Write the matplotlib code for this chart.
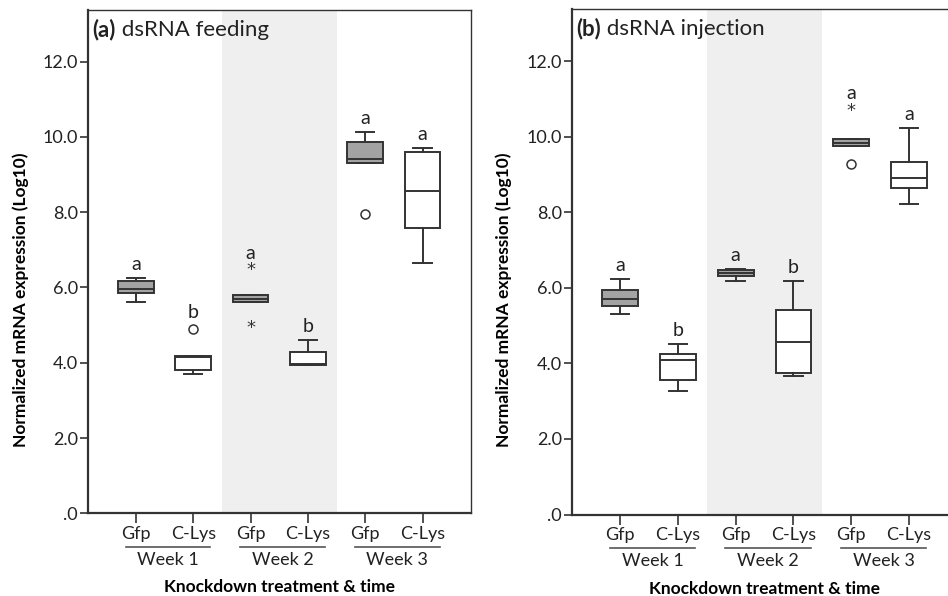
import matplotlib
matplotlib.use("Agg")
import matplotlib.pyplot as plt

plt.rcParams["font.family"] = ["Lato", "DejaVu Sans"]
plt.rcParams["text.color"] = "#222222"

# categories
groups = ["Gfp", "C-Lys", "Gfp", "C-Lys", "Gfp", "C-Lys"]
weeks = ["Week 1", "Week 2", "Week 3"]
letters_feed = ["a", "b", "a", "b", "a", "a"]
letters_inj = ["a", "b", "a", "b", "a", "a"]

# (a) dsRNA feeding - box summaries
feed_whislo = [5.62, 3.69, 5.61, 3.94, 9.31, 6.64]
feed_q1 = [5.86, 3.80, 5.61, 3.94, 9.31, 7.57]
feed_med = [5.95, 4.16, 5.69, 3.96, 9.42, 8.56]
feed_q3 = [6.17, 4.18, 5.79, 4.29, 9.87, 9.60]
feed_whishi = [6.26, 4.18, 5.79, 4.61, 10.14, 9.71]
feed_circles = [[], [4.89], [], [], [7.94], []]
feed_stars = [[], [], [6.45, 4.92], [], [], []]

# (b) dsRNA injection
inj_whislo = [5.31, 3.28, 6.18, 3.67, 9.74, 8.21]
inj_q1 = [5.51, 3.55, 6.30, 3.74, 9.74, 8.64]
inj_med = [5.70, 4.08, 6.39, 4.57, 9.83, 8.91]
inj_q3 = [5.95, 4.25, 6.46, 5.40, 9.94, 9.32]
inj_whishi = [6.24, 4.50, 6.50, 6.17, 9.94, 10.23]
inj_circles = [[], [], [], [], [9.28], []]
inj_stars = [[], [], [], [], [10.69], []]

LINE = "#333333"
GRAY_BOX = "#a3a3a3"
BAND = "#efefef"
positions = list(range(1, 7))


def panel(ax, tag, title, whislo, q1, med, q3, whishi, circles, stars, letters):
    stats = []
    for i in range(6):
        stats.append(dict(whislo=whislo[i], q1=q1[i], med=med[i], q3=q3[i],
                          whishi=whishi[i], fliers=[]))
    ax.axvspan(2.5, 4.5, color=BAND, zorder=0, lw=0)
    bp = ax.bxp(stats, positions=positions, widths=0.62, capwidths=0.32,
                showfliers=False, patch_artist=True,
                boxprops=dict(edgecolor=LINE, linewidth=1.4),
                medianprops=dict(color=LINE, linewidth=1.4),
                whiskerprops=dict(color=LINE, linewidth=1.4),
                capprops=dict(color=LINE, linewidth=1.4))
    for i, box in enumerate(bp["boxes"]):
        box.set_facecolor(GRAY_BOX if i % 2 == 0 else "white")

    for i in range(6):
        x = positions[i]
        if circles[i]:
            ax.plot([x] * len(circles[i]), circles[i], "o", ms=6.5,
                    mfc="none", mec=LINE, mew=1.1)
        for s in stars[i]:
            ax.text(x, s, "*", ha="center", va="center", fontsize=13,
                    color=LINE, family="DejaVu Sans")
        top = max([whishi[i]] + circles[i] + stars[i])
        off = 0.45 if (circles[i] or stars[i]) and top > whishi[i] else 0.36
        ax.text(x, top + off, letters[i], ha="center", va="center", fontsize=14)

    ax.set_xlim(0.16, 6.84)
    ax.set_ylim(0, 13.37)
    ax.set_yticks(range(0, 13, 2))
    ax.set_yticklabels([".0", "2.0", "4.0", "6.0", "8.0", "10.0", "12.0"])
    ax.set_xticks(positions)
    ax.set_xticklabels(groups)
    ax.tick_params(axis="x", direction="out", length=7, width=1.2, color=LINE,
                   labelsize=13, pad=2, labelcolor="#222222")
    ax.tick_params(axis="y", direction="out", length=6, width=1.2, color=LINE,
                   labelsize=13, pad=1, labelcolor="#222222")
    for side in ["left", "bottom"]:
        ax.spines[side].set_linewidth(1.6)
        ax.spines[side].set_color(LINE)
    for side in ["top", "right"]:
        ax.spines[side].set_linewidth(1.0)
        ax.spines[side].set_color(LINE)

    trans = ax.get_xaxis_transform()
    for k, wk in enumerate(weeks):
        x0 = 2 * k + 1 - 0.18
        x1 = 2 * k + 2 + 0.30
        ax.plot([x0, x1], [-0.066, -0.066], color="#555555", lw=1.2,
                transform=trans, clip_on=False)
        ax.text((x0 + x1) / 2, -0.092, wk, transform=trans, ha="center",
                va="center", fontsize=13)

    ax.set_xlabel("Knockdown treatment & time", fontsize=12.5, fontweight="bold")
    ax.xaxis.label.set_va("baseline")
    ax.xaxis.set_label_coords(3.5, -0.157, transform=trans)
    ax.set_ylabel("Normalized mRNA expression (Log10)", fontsize=12.5,
                  fontweight="bold")

    t1 = ax.text(0.012, 0.962, tag, transform=ax.transAxes, fontsize=16,
                 fontweight="bold", va="center", ha="left")
    ax.annotate(" " + title, xy=(1, 0), xycoords=t1, fontsize=16,
                va="bottom", ha="left")


fig = plt.figure(figsize=(9.48, 5.96), dpi=100)
ax1 = fig.add_axes([87.7 / 948, 82.7 / 596, 383 / 948, 503.3 / 596])
ax2 = fig.add_axes([571.7 / 948, 81.5 / 596, 385.7 / 948, 505.2 / 596])

panel(ax1, "(a)", "dsRNA feeding", feed_whislo, feed_q1, feed_med, feed_q3,
      feed_whishi, feed_circles, feed_stars, letters_feed)
panel(ax2, "(b)", "dsRNA injection", inj_whislo, inj_q1, inj_med, inj_q3,
      inj_whishi, inj_circles, inj_stars, letters_inj)
ax1.yaxis.set_label_coords(-0.152, 0.424)
ax2.yaxis.set_label_coords(-0.155, 0.425)

fig.savefig("out.png", dpi=100)
